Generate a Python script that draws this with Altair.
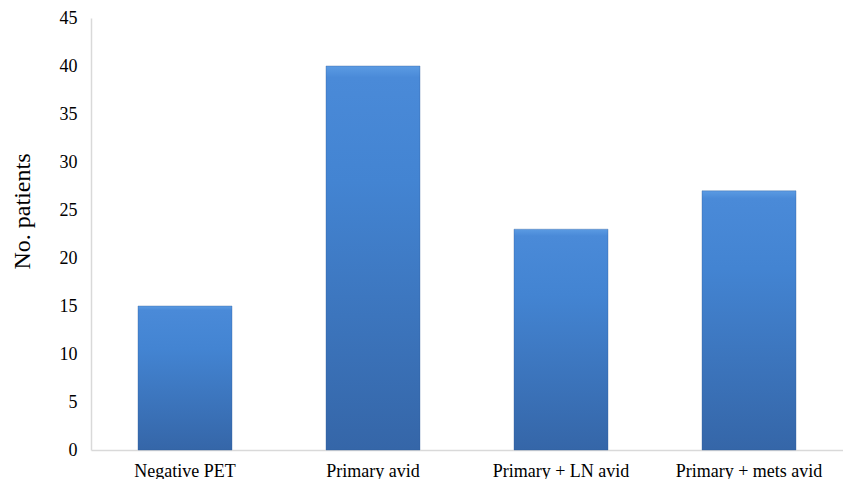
import altair as alt
import pandas as pd

categories = ["Negative PET", "Primary avid", "Primary + LN avid", "Primary + mets avid"]
patients = [15, 40, 23, 27]

df = pd.DataFrame({"group": categories, "patients": patients})

SERIF = "Times New Roman, Liberation Serif, serif"

bar_fill = alt.Gradient(
    gradient="linear",
    x1=0, x2=0, y1=0, y2=1,
    stops=[
        alt.GradientStop(color="#5b9be3", offset=0),
        alt.GradientStop(color="#4a8ad8", offset=0.03),
        alt.GradientStop(color="#4384d2", offset=0.3),
        alt.GradientStop(color="#3566a8", offset=1),
    ],
)

chart = (
    alt.Chart(df)
    .mark_bar(fill=bar_fill, stroke="#2f5c96", strokeWidth=0.6, strokeOpacity=0.6)
    .encode(
        x=alt.X(
            "group:N",
            sort=categories,
            scale=alt.Scale(paddingInner=0.5, paddingOuter=0.25),
            axis=alt.Axis(
                title=None, labelAngle=0, ticks=False, labelPadding=12,
                domainColor="#d9d9d9", domainWidth=1.5,
            ),
        ),
        y=alt.Y(
            "patients:Q",
            scale=alt.Scale(domain=[0, 45], nice=False),
            axis=alt.Axis(
                title="No. patients", values=list(range(0, 50, 5)), grid=False, ticks=False,
                labelPadding=14, domainColor="#d9d9d9", domainWidth=1.5,
                titleFontSize=24, titleX=-57, titleY=193, titleAngle=270,
                titleAlign="center", titleBaseline="bottom",
            ),
        ),
    )
    .properties(
        width=752, height=432,
        autosize=alt.AutoSizeParams(type="none"),
        padding={"left": 91, "top": 18, "right": 0, "bottom": 29},
    )
    .configure(font=SERIF)
    .configure_axis(
        labelFont=SERIF, labelFontSize=18, labelFontWeight="normal", labelColor="#000000",
        titleFont=SERIF, titleFontWeight="normal", titleColor="#000000",
    )
    .configure_view(stroke=None)
)

chart.save("out.html", embed_options={"renderer": "svg", "actions": False})
